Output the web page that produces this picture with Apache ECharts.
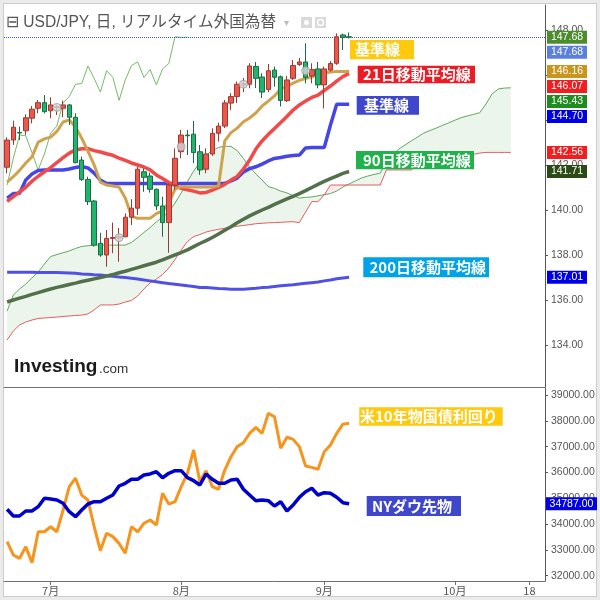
<!DOCTYPE html>
<html><head><meta charset="utf-8">
<script src="https://cdn.jsdelivr.net/npm/echarts@6/dist/echarts.min.js"></script>
<style>html,body{margin:0;padding:0;background:#ebebeb}#c{width:600px;height:600px}</style>
</head><body><div id="c"></div>
<script>
// ---------- categories (trading days, 2023) ----------
const dates = ['06-22','06-23','06-26','06-27','06-28','06-29','06-30',
'07-03','07-04','07-05','07-06','07-07','07-10','07-11','07-12','07-13','07-14','07-17','07-18','07-19','07-20','07-21','07-24','07-25','07-26','07-27','07-28','07-31',
'08-01','08-02','08-03','08-04','08-07','08-08','08-09','08-10','08-11','08-14','08-15','08-16','08-17','08-18','08-21','08-22','08-23','08-24','08-25','08-28','08-29','08-30','08-31',
'09-01','09-04','09-05','09-06','09-07','09-08','09-11','09-12','09-13','09-14','09-15','09-18','09-19','09-20','09-21','09-22','09-25','09-26','09-27','09-28','09-29',
'10-02','10-03','10-04','10-05','10-06','10-09','10-10','10-11','10-12','10-13','10-16','10-17','10-18','10-19','10-20'];
const monthTicks = {'07-03':'7月','08-01':'8月','09-01':'9月','10-02':'10月','10-18':'18'};

// ---------- USD/JPY daily candles ----------
const open  = [141.90,143.11,143.45,143.52,144.08,144.52,144.77,144.41,144.55,144.52,144.67,144.12,142.22,141.36,140.40,138.52,138.00,138.74,138.75,138.81,139.68,140.08,141.70,141.51,140.92,140.18,139.44,141.11,142.59,143.33,143.37,142.59,141.81,142.49,143.41,143.73,144.75,145.04,145.55,145.59,146.38,145.91,145.36,146.22,145.92,144.86,145.85,146.47,146.58,145.96,146.27,145.56,146.22,146.52,147.78,147.70];
const high  = [143.23,143.97,143.70,144.25,144.62,144.89,145.11,145.01,144.67,144.86,144.71,144.30,142.37,141.48,140.44,138.99,139.11,139.44,139.20,139.85,140.48,141.92,141.85,141.66,140.96,140.59,141.19,142.74,143.56,143.56,143.96,142.89,142.74,143.63,143.88,144.89,145.19,145.71,145.87,146.52,146.58,146.08,146.49,146.37,145.98,145.96,146.67,146.76,147.41,146.52,146.58,146.37,146.62,147.85,147.84,147.89];
const low   = [141.63,142.89,143.11,143.33,143.85,144.30,144.30,144.08,144.22,144.12,143.78,142.08,141.29,140.22,138.37,137.92,137.48,138.08,137.70,138.79,139.33,139.78,140.81,140.77,140.00,138.81,138.10,140.90,142.30,142.44,142.08,141.56,141.63,142.40,143.04,143.64,144.44,144.75,145.24,145.41,145.42,144.98,145.24,145.48,144.60,144.80,145.78,146.40,145.63,145.63,145.41,144.51,146.15,146.45,147.11,147.62];
const close = [143.11,143.68,143.42,144.10,144.48,144.77,144.37,144.67,144.58,144.67,144.12,142.10,141.36,140.37,138.44,138.00,138.74,138.78,138.82,139.68,140.08,141.81,141.45,140.92,140.18,139.44,141.11,142.30,143.33,143.30,142.55,141.78,142.49,143.41,143.73,144.76,145.04,145.59,145.62,146.40,145.85,145.24,146.19,145.90,144.87,145.78,146.42,146.58,145.89,146.24,145.56,146.27,146.51,147.70,147.67,147.68];
const markerIdx = [8,18,28,38,48];
const markerVal = [144.56,138.77,142.81,145.59,146.19];

// ---------- indicators ----------
const tenkan = [141.24,141.48,141.76,142.09,142.36,143.02,143.16,143.24,143.49,143.91,144.00,143.69,143.19,142.62,142.00,141.24,141.11,141.07,141.02,140.53,139.73,139.63,139.63,139.63,139.84,139.96,140.31,140.93,141.04,141.02,141.02,141.02,141.02,141.02,141.07,143.07,143.44,143.64,143.92,144.09,144.31,144.62,144.84,145.07,145.38,145.49,145.64,145.76,145.84,145.92,146.02,146.09,146.13,146.16,146.16,146.16];
const ma21 = [140.38,140.59,140.80,141.01,141.28,141.50,141.70,141.88,142.11,142.33,142.53,142.67,142.72,142.73,142.64,142.58,142.50,142.43,142.31,142.20,142.09,142.00,141.91,141.78,141.56,141.40,141.22,141.09,140.96,140.90,140.84,140.76,140.78,140.88,141.00,141.14,141.33,141.49,141.82,142.22,142.71,143.07,143.36,143.62,143.89,144.16,144.44,144.67,144.84,145.00,145.11,145.31,145.51,145.73,145.93,146.07];
const kijun = [140.53,140.73,140.74,141.33,141.60,141.76,141.78,141.78,141.78,141.78,141.82,141.89,141.93,141.87,141.64,141.33,141.18,141.18,141.18,141.18,141.18,141.18,141.18,141.18,141.18,141.18,141.18,141.18,141.18,141.18,141.18,141.18,141.18,141.18,141.18,141.18,141.29,141.42,141.69,141.84,141.92,142.04,142.18,142.29,142.33,142.39,142.42,142.44,142.76,142.78,142.78,142.78,143.78,144.70,144.70,144.70];
const ma90 = [135.91,136.00,136.08,136.16,136.25,136.33,136.41,136.49,136.56,136.62,136.69,136.75,136.82,136.88,136.94,137.00,137.06,137.13,137.21,137.28,137.36,137.44,137.52,137.60,137.68,137.78,137.89,138.00,138.11,138.23,138.37,138.51,138.64,138.78,138.93,139.10,139.26,139.43,139.59,139.74,139.87,140.00,140.12,140.25,140.37,140.49,140.61,140.73,140.86,141.00,141.14,141.27,141.39,141.51,141.63,141.71];
const ma200 = [137.23,137.23,137.23,137.23,137.23,137.22,137.22,137.22,137.22,137.21,137.20,137.19,137.16,137.14,137.12,137.11,137.08,137.05,137.02,137.00,136.97,136.93,136.89,136.85,136.81,136.77,136.73,136.70,136.67,136.63,136.60,136.56,136.55,136.53,136.51,136.50,136.48,136.48,136.48,136.50,136.52,136.55,136.57,136.60,136.63,136.66,136.68,136.71,136.74,136.77,136.80,136.85,136.89,136.94,136.98,137.01];
const spanA = [135.51,136.22,136.49,136.71,136.98,137.24,137.60,137.93,138.02,138.10,138.18,138.29,138.38,138.41,138.44,138.44,138.44,138.44,138.44,138.44,138.56,138.77,139.00,139.22,139.47,139.69,139.91,140.31,140.76,141.27,141.73,142.13,142.44,142.64,142.78,142.84,142.82,142.64,142.29,141.91,141.60,141.33,141.04,140.96,140.84,140.76,140.64,140.53,140.56,140.58,140.63,140.68,140.73,140.84,141.02,141.16,141.29,141.42,141.51,141.58,141.64,142.13,142.44,142.71,142.89,143.07,143.24,143.42,143.53,143.64,143.76,143.87,143.99,144.10,144.18,144.25,144.32,144.71,145.16,145.38,145.42,145.43];
const spanB = [134.22,134.62,134.89,135.02,135.11,135.18,135.20,135.22,135.24,135.27,135.29,135.31,135.33,135.38,135.56,135.78,135.78,135.78,135.82,135.91,135.98,136.18,136.49,136.76,136.93,137.13,137.42,137.80,138.22,138.60,138.82,138.91,139.02,139.09,139.14,139.19,139.24,139.28,139.31,139.35,139.39,139.41,139.43,139.44,139.45,139.47,139.48,139.44,139.91,140.37,140.37,140.67,141.11,141.11,141.11,141.11,141.11,141.11,141.11,141.11,141.11,141.78,141.78,141.78,141.78,141.78,141.96,142.11,142.27,142.40,142.40,142.40,142.40,142.40,142.40,142.47,142.53,142.56,142.56,142.56,142.56,142.56];
const laggingShift = 26;

// ---------- lower pane ----------
const dow = [34572,34312,34312,34506,34506,34673,34998,34971,34932,34804,34479,34285,34545,34777,34866,34866,34998,35126,35475,35579,35734,35734,35901,35940,36029,35796,35967,36067,36067,35796,35680,35513,35940,35734,35579,35579,35707,35734,35347,35126,34905,34932,34905,34700,34866,34506,34739,35037,35254,35386,35126,35215,35192,35037,34828,34787];
const us10y = [3.763,3.708,3.694,3.742,3.676,3.804,3.804,3.825,3.804,3.894,3.991,4.026,3.956,3.936,3.825,3.726,3.798,3.784,3.756,3.715,3.825,3.804,3.839,3.853,3.832,3.964,3.919,3.929,3.991,4.046,4.143,4.012,4.057,3.991,3.980,4.060,4.115,4.157,4.173,4.212,4.237,4.212,4.295,4.281,4.150,4.196,4.187,4.157,4.077,4.071,4.063,4.136,4.164,4.212,4.250,4.254];

const priceTicks = [134,136,138,140,142,144,146,148];
const dowTicks = [32000,33000,34000,35000,36000,37000,38000,39000];
const priceRange = [132.133, 149.111];
const dowRange = [31794, 39271];
const yieldRange = [3.6, 4.4];

// ---------- build ----------
const FONT = "'Liberation Sans','Noto Sans CJK JP',sans-serif";
const JP = "'Noto Sans CJK JP','Liberation Sans',sans-serif";
const candles = open.map((o,i)=>[o, close[i], low[i], high[i]]);
const lagging = close.slice(laggingShift);
const greenBand = spanA.map((a,i)=>Math.max(a-spanB[i],0));
const pinkBand = spanA.map((a,i)=>Math.max(spanB[i]-a,0));
const markers = markerIdx.map((k,i)=>[k, markerVal[i]]);

function ln(name, data, color, width, z){
  return {name, type:'line', xAxisIndex:0, yAxisIndex:0, data, symbol:'none', silent:true, z:z||2,
    lineStyle:{color, width}, itemStyle:{color}};
}
const hidden = {opacity:0, width:0};

const chart = echarts.init(document.getElementById('c'), null, {renderer:'canvas'});
const option = {
  animation:false,
  backgroundColor:'#ebebeb',
  textStyle:{fontFamily:FONT},
  grid:[{left:4, right:55, top:5, height:382},{left:4, right:55, top:388, height:193}],
  xAxis:[
    {type:'category', gridIndex:0, data:dates, axisLine:{show:true, lineStyle:{color:'#6f6f6f', width:1}}, axisTick:{show:false}, axisLabel:{show:false}, splitLine:{show:false}},
    {type:'category', gridIndex:1, data:dates, axisLine:{show:true, lineStyle:{color:'#6f6f6f', width:1}},
      axisTick:{show:true, alignWithLabel:true, interval:(i,v)=>v in monthTicks, length:4, lineStyle:{color:'#6f6f6f'}},
      axisLabel:{interval:(i,v)=>v in monthTicks, formatter:v=>monthTicks[v]||'', color:'#555', fontSize:11, margin:4, fontFamily:JP}, splitLine:{show:false}}
  ],
  yAxis:[
    {type:'value', gridIndex:0, position:'right', min:priceRange[0], max:priceRange[1], splitLine:{show:false},
      axisLine:{show:true, lineStyle:{color:'#555'}}, axisTick:{show:true, customValues:priceTicks, length:3, lineStyle:{color:'#555'}},
      axisLabel:{customValues:priceTicks, formatter:v=>v.toFixed(2), color:'#555', fontSize:10.5, margin:6}},
    {type:'value', gridIndex:1, position:'right', min:dowRange[0], max:dowRange[1], splitLine:{show:false},
      axisLine:{show:true, lineStyle:{color:'#555'}}, axisTick:{show:true, customValues:dowTicks, length:3, lineStyle:{color:'#555'}},
      axisLabel:{customValues:dowTicks, formatter:v=>v.toFixed(2), color:'#555', fontSize:10.5, margin:6}},
    {type:'value', gridIndex:1, show:false, min:yieldRange[0], max:yieldRange[1]}
  ],
  series:[
    {type:'line', xAxisIndex:0, yAxisIndex:0, data:spanB, stack:'cg', symbol:'none', silent:true, lineStyle:hidden, z:1},
    {type:'line', xAxisIndex:0, yAxisIndex:0, data:greenBand, stack:'cg', symbol:'none', silent:true, lineStyle:hidden, areaStyle:{color:'rgba(90,170,90,0.16)'}, z:1},
    {type:'line', xAxisIndex:0, yAxisIndex:0, data:spanA, stack:'cp', symbol:'none', silent:true, lineStyle:hidden, z:1},
    {type:'line', xAxisIndex:0, yAxisIndex:0, data:pinkBand, stack:'cp', symbol:'none', silent:true, lineStyle:hidden, areaStyle:{color:'rgba(235,90,90,0.18)'}, z:1},
    ln('先行スパンA', spanA, '#5fa85f', 1, 1),
    ln('先行スパンB', spanB, '#e45c5c', 1, 1),
    ln('遅行スパン', lagging, '#77bb66', 1, 1),
    ln('200日移動平均線', ma200, '#5050e6', 3),
    ln('90日移動平均線', ma90, '#52704a', 3.5),
    ln('基準線', kijun, '#4646e8', 3.5),
    ln('21日移動平均線', ma21, '#f04a4a', 3.5),
    ln('転換線', tenkan, '#cfa24e', 3),
    {type:'candlestick', xAxisIndex:0, yAxisIndex:0, data:candles, barWidth:5, z:5, silent:true,
      itemStyle:{color:'#f0574b', color0:'#1fb56b', borderColor:'#9a3b33', borderColor0:'#1d6b44', borderWidth:1},
      markLine:{silent:true, symbol:'none', label:{show:false}, lineStyle:{type:'dotted', color:'#3457c8', width:1},
        data:[{yAxis:close[close.length-1]}]}},
    {type:'scatter', xAxisIndex:0, yAxisIndex:0, data:markers, symbol:'circle', symbolSize:8, z:6, silent:true,
      itemStyle:{color:'#d6d6d6', borderColor:'#9a9a9a', borderWidth:1}},
    {type:'line', xAxisIndex:1, yAxisIndex:2, data:us10y, symbol:'none', silent:true, lineStyle:{color:'#f7941d', width:3}, z:3},
    {type:'line', xAxisIndex:1, yAxisIndex:1, data:dow, symbol:'none', silent:true, lineStyle:{color:'#0000cc', width:3.5}, z:3}
  ]
};
chart.setOption(option);

// ---------- annotations ----------
const g = [];
g.push({type:'rect', shape:{x:3.5, y:3.5, width:593, height:593}, style:{fill:'#ffffff', stroke:'#cccccc', lineWidth:1}, z:-100, silent:true});
function txt(x,y,text,font,fill,align){
  return {type:'text', x, y, z:120, silent:true, style:{text, font, fill, align:align||'left', verticalAlign:'middle', textAlign:align||'left', textVerticalAlign:'middle'}};
}
// title
g.push(txt(6, 23, '⊟ USD/JPY, 日, リアルタイム外国為替', "15.6px "+FONT, '#555'));
g.push(txt(284, 23, '▾', "10px "+FONT, '#bbbbbb'));
g.push({type:'rect', shape:{x:301, y:17, width:11, height:11}, style:{fill:'#d9d9d9'}, z:110, silent:true});
g.push({type:'circle', shape:{cx:306.5, cy:22.5, r:2.5}, style:{fill:'#fff'}, z:111, silent:true});
g.push({type:'rect', shape:{x:315, y:17, width:11, height:11}, style:{fill:'#d9d9d9'}, z:110, silent:true});
g.push({type:'circle', shape:{cx:320.5, cy:22.5, r:3}, style:{fill:'none', stroke:'#fff', lineWidth:1.5}, z:111, silent:true});
// logo
g.push(txt(14, 367, 'Investing', "bold 19px "+FONT, '#1b1b1b'));
g.push(txt(99, 369, '.com', "13.5px "+FONT, '#333'));
// colored text boxes
const boxes = [
  [350,40,64,19.3,'#FFC90E','基準線',355],
  [357.7,65.7,117.3,17.6,'#ED1C24','21日移動平均線',363],
  [356.7,96,62.3,18.7,'#3F48CC','基準線',364],
  [356,151,118,18.3,'#22B14C','90日移動平均線',363],
  [363.3,257.3,125.7,20,'#00A2E8','200日移動平均線',369.5],
  [359.3,407.3,143.4,18.4,'#FFC90E','米10年物国債利回り',360],
  [366.7,496,94.3,20,'#3F48CC','NYダウ先物',372]
];
boxes.forEach(b=>{
  g.push({type:'rect', shape:{x:b[0], y:b[1], width:b[2], height:b[3]}, style:{fill:b[4]}, z:115, silent:true});
  g.push(txt(b[6], b[1]+b[3]/2, b[5], "bold 15px "+JP, '#ffffff'));
});
// axis value labels
const tags = [
  {v:lagging[lagging.length-1], c:'#4b8d2c'},
  {v:close[close.length-1], c:'#5a7fdc'},
  {v:tenkan[tenkan.length-1], c:'#c8961e'},
  {v:ma21[ma21.length-1], c:'#f01e1e'},
  {v:spanA[spanA.length-1], c:'#1f8c1f'},
  {v:kijun[kijun.length-1], c:'#0000e6'},
  {v:spanB[spanB.length-1], c:'#f01e1e'},
  {v:ma90[ma90.length-1], c:'#2b4a15'},
  {v:ma200[ma200.length-1], c:'#0000e6'}
];
let prev = -1e9;
tags.map((t,i)=>({...t,i})).sort((a,b)=>b.v-a.v || a.i-b.i).forEach(t=>{
  let y = chart.convertToPixel({yAxisIndex:0}, t.v);
  y = Math.max(y, prev+15); prev = y;
  g.push({type:'rect', shape:{x:547, y:y-6.5, width:40, height:13}, style:{fill:t.c}, z:118, silent:true});
  g.push(txt(567, y, t.v.toFixed(2), "10.5px "+FONT, '#ffffff', 'center'));
});
const dy = chart.convertToPixel({yAxisIndex:1}, dow[dow.length-1]);
g.push({type:'rect', shape:{x:546, y:dy-6.5, width:51, height:13}, style:{fill:'#0000e6'}, z:118, silent:true});
g.push(txt(571.5, dy, dow[dow.length-1].toFixed(2), "10.5px "+FONT, '#ffffff', 'center'));
chart.setOption({graphic:g});
</script></body></html>
